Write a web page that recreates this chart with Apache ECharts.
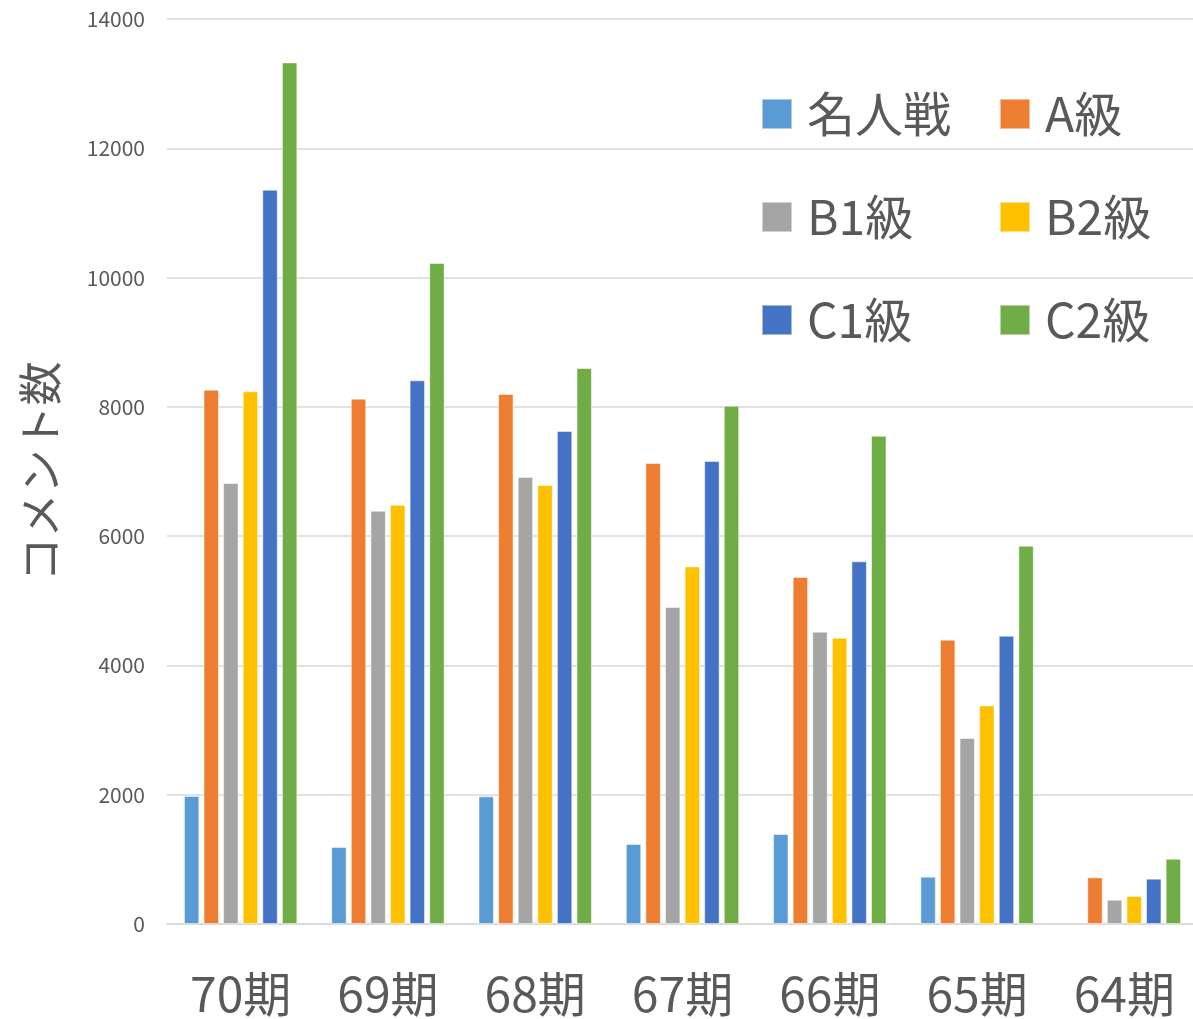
<!DOCTYPE html>
<html>
<head>
<meta charset="utf-8">
<script src="https://cdn.jsdelivr.net/npm/echarts@6/dist/echarts.min.js"></script>
<style>
html,body{margin:0;padding:0;background:#fff;}
#chart{width:1193px;height:1019px;}
</style>
</head>
<body>
<div id="chart"></div>
<script>
const categories = ['70期','69期','68期','67期','66期','65期','64期'];
const seriesNames = ['名人戦','A級','B1級','B2級','C1級','C2級'];
const meijinsen = [1980, 1190, 1975, 1238, 1392, 732, null];
const aKyu = [8266, 8127, 8199, 7132, 5368, 4398, 722];
const b1Kyu = [6822, 6394, 6915, 4904, 4522, 2877, 376];
const b2Kyu = [8240, 6487, 6791, 5532, 4429, 3382, 433];
const c1Kyu = [11360, 8410, 7627, 7163, 5610, 4460, 701];
const c2Kyu = [13329, 10226, 8601, 8018, 7554, 5852, 1010];
const yTicks = [0, 2000, 4000, 6000, 8000, 10000, 12000, 14000];
const yAxisTitle = 'コメント数';

const colors = ['#5B9BD5','#ED7D31','#A5A5A5','#FFC000','#4472C4','#70AD47'];
const values = [meijinsen, aKyu, b1Kyu, b2Kyu, c1Kyu, c2Kyu];
const FONT = '"Noto Sans CJK JP", "Noto Sans", sans-serif';

const chart = echarts.init(document.getElementById('chart'), null, {renderer:'canvas'});

const legendCommon = {
  orient: 'vertical',
  padding: 0,
  itemWidth: 30,
  itemHeight: 30,
  itemGap: 43,
  icon: 'rect',
  selectedMode: false,
  textStyle: {fontSize: 48, color: '#595959', fontFamily: FONT, lineHeight: 60, padding: [0,0,0,10]}
};

chart.setOption({
  animation: false,
  color: colors,
  grid: {left: 167, width: 1031, top: 19, bottom: 95, containLabel: false, outerBoundsMode: 'none'},
  legend: [
    Object.assign({left: 761, top: 84, data: [seriesNames[0], seriesNames[2], seriesNames[4]]}, legendCommon),
    Object.assign({left: 999, top: 84, data: [seriesNames[1], seriesNames[3], seriesNames[5]]}, legendCommon)
  ],
  xAxis: {
    type: 'category',
    data: categories,
    axisTick: {show: false},
    axisLine: {lineStyle: {color: '#D9D9D9', width: 1.5}},
    axisLabel: {fontSize: 48, color: '#595959', fontFamily: FONT, margin: 46}
  },
  yAxis: {
    type: 'value',
    min: yTicks[0],
    max: yTicks[yTicks.length-1],
    interval: 2000,
    name: yAxisTitle,
    nameLocation: 'middle',
    nameRotate: 90,
    nameGap: 105,
    nameTextStyle: {fontSize: 44, color: '#595959', fontFamily: FONT},
    axisLine: {show: false},
    axisTick: {show: false},
    axisLabel: {fontSize: 21, color: '#595959', fontFamily: FONT, margin: 22, formatter: v => String(v)},
    splitLine: {lineStyle: {color: '#D9D9D9', width: 1.5}}
  },
  series: seriesNames.map((n, i) => ({
    name: n,
    type: 'bar',
    data: values[i],
    barGap: '27%',
    barCategoryGap: '23%',
    itemStyle: {color: colors[i], borderColor: 'rgba(255,255,255,0.5)', borderWidth: 1}
  }))
});
</script>
</body>
</html>
